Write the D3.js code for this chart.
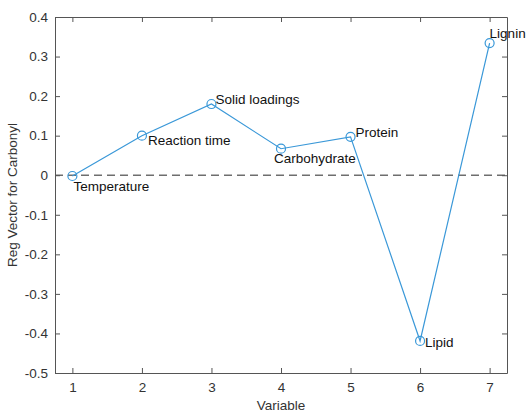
<!DOCTYPE html>
<html>
<head>
<meta charset="utf-8">
<script src="https://cdn.jsdelivr.net/npm/d3@7"></script>
<style>
  body { margin: 0; background: #fff; }
  text { font-family: "Liberation Sans", Arial, sans-serif; }
</style>
</head>
<body>
<div id="chart"></div>
<script>
const variables = [1, 2, 3, 4, 5, 6, 7];
const names = ["Temperature", "Reaction time", "Solid loadings", "Carbohydrate", "Protein", "Lipid", "Lignin"];
const regVector = [-0.002, 0.100, 0.180, 0.067, 0.097, -0.419, 0.334];
const xTicks = [1, 2, 3, 4, 5, 6, 7];
const yTicks = [-0.5, -0.4, -0.3, -0.2, -0.1, 0, 0.1, 0.2, 0.3, 0.4];

// label offsets (px) from each point, like the hand-placed text in the figure
const labelDx = [1, 6, 4, -7, 5, 5, 0];
const labelDy = [10, 5, -5, 10, -5, 1, -10];

const width = 526, height = 417;
const margin = { top: 17, right: 19, bottom: 44, left: 55 };

const svg = d3.select("#chart")
    .append("svg")
    .attr("width", width)
    .attr("height", height);

const x = d3.scaleLinear().domain([0.75, 7.25]).range([margin.left, width - margin.right]);
const y = d3.scaleLinear().domain([-0.5, 0.4]).range([height - margin.bottom, margin.top]);

const axisColor = "#555";
const tickLen = 5;
// plain hyphen minus, as in the original figure
const yFmt = d => String(d3.format(".1~f")(d)).replace("\u2212", "-");

// zero reference line
svg.append("line")
    .attr("x1", x(0.75)).attr("x2", x(7.25))
    .attr("y1", y(0)).attr("y2", y(0))
    .attr("stroke", "#6e6e6e")
    .attr("stroke-width", 1.5)
    .attr("stroke-dasharray", "8,5");

// axes (ticks inward on all four sides)
const axes = [
    { axis: d3.axisBottom(x).tickValues(xTicks).tickFormat(d3.format("d")), t: `translate(0,${y(-0.5)})`, pad: 9 },
    { axis: d3.axisTop(x).tickValues(xTicks).tickFormat(""), t: `translate(0,${y(0.4)})`, pad: 9 },
    { axis: d3.axisLeft(y).tickValues(yTicks).tickFormat(yFmt), t: `translate(${x(0.75)},0)`, pad: 7 },
    { axis: d3.axisRight(y).tickValues(yTicks).tickFormat(""), t: `translate(${x(7.25)},0)`, pad: 7 }
];
axes.forEach(a => {
    const g = svg.append("g")
        .attr("transform", a.t)
        .call(a.axis.tickSizeInner(-tickLen).tickSizeOuter(0).tickPadding(a.pad));
    g.select(".domain").attr("stroke", axisColor).attr("stroke-width", 1);
    g.selectAll(".tick line").attr("stroke", axisColor);
    g.selectAll(".tick text")
        .attr("fill", "#333")
        .style("font-size", "13.5px");
});

// axis titles
svg.append("text")
    .attr("x", (x(0.75) + x(7.25)) / 2)
    .attr("y", 410)
    .attr("text-anchor", "middle")
    .attr("fill", "#333")
    .style("font-size", "13.5px")
    .text("Variable");

svg.append("text")
    .attr("transform", `translate(17,${(y(-0.5) + y(0.4)) / 2}) rotate(-90)`)
    .attr("text-anchor", "middle")
    .attr("fill", "#333")
    .style("font-size", "13.5px")
    .text("Reg Vector for Carbonyl");

const lineColor = "#3a98d8";
const pts = variables.map((v, i) => ({ v, r: regVector[i], name: names[i], i }));

svg.append("path")
    .datum(pts)
    .attr("fill", "none")
    .attr("stroke", lineColor)
    .attr("stroke-width", 1.2)
    .attr("d", d3.line().x(d => x(d.v)).y(d => y(d.r)));

svg.selectAll("circle.pt")
    .data(pts)
    .join("circle")
    .attr("class", "pt")
    .attr("cx", d => x(d.v))
    .attr("cy", d => y(d.r))
    .attr("r", 4.5)
    .attr("fill", "none")
    .attr("stroke", lineColor)
    .attr("stroke-width", 1.2);

svg.selectAll("text.lbl")
    .data(pts)
    .join("text")
    .attr("class", "lbl")
    .attr("x", d => x(d.v) + labelDx[d.i])
    .attr("y", d => y(d.r) + labelDy[d.i])
    .attr("dy", "0.35em")
    .attr("fill", "#111")
    .style("font-size", "13.5px")
    .text(d => d.name);
</script>
</body>
</html>
